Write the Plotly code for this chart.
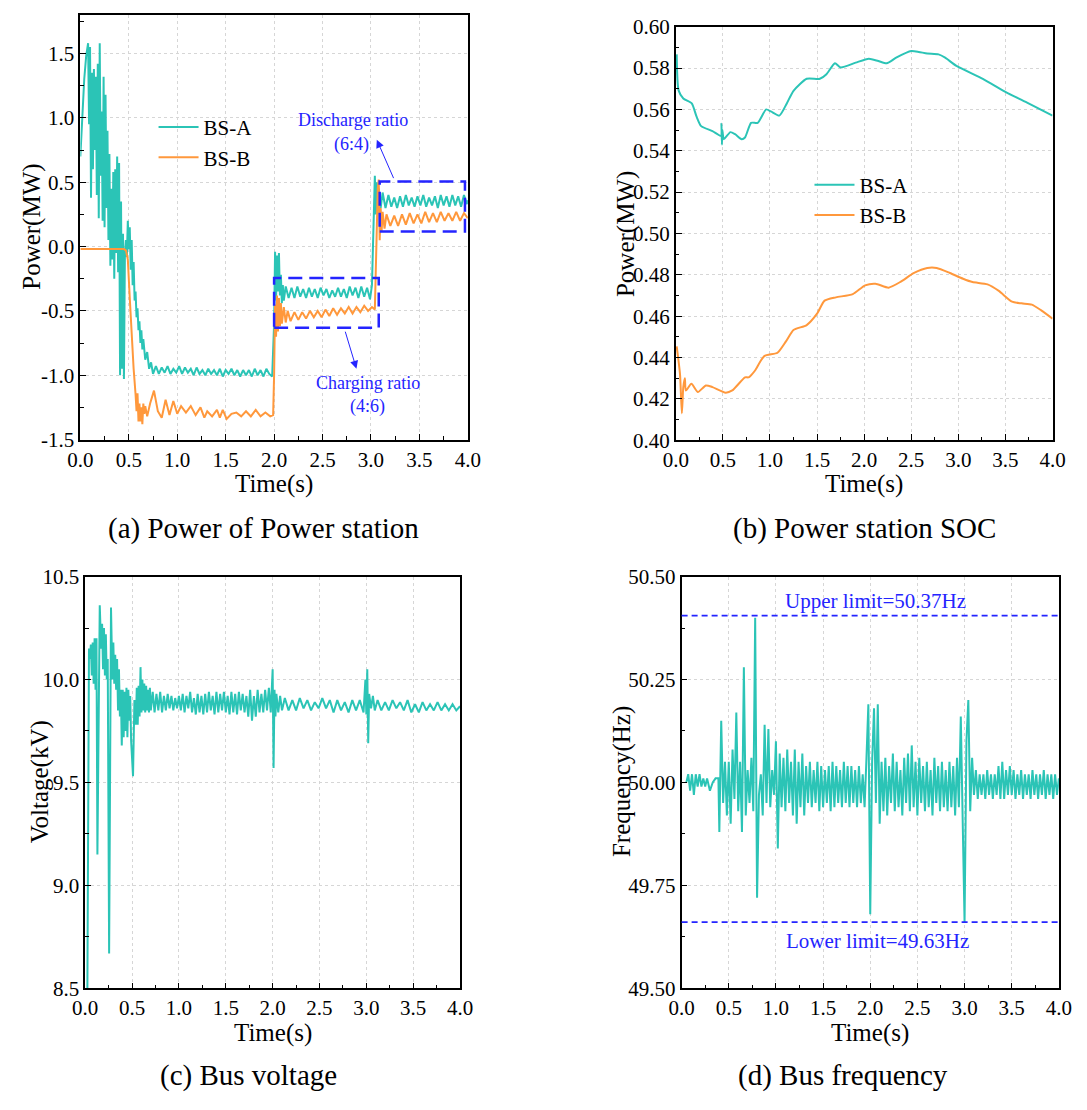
import plotly.graph_objects as go

# ---------------- DATA ----------------
# (a) Power of power station
bsa_time = [
    0.00, 0.02, 0.04, 0.06, 0.08, 0.09, 0.10, 0.11, 0.12, 0.13,
    0.14, 0.15, 0.16, 0.17, 0.18, 0.19, 0.20, 0.21, 0.22, 0.23,
    0.24, 0.25, 0.26, 0.27, 0.28, 0.29, 0.30, 0.31, 0.32, 0.33,
    0.34, 0.35, 0.36, 0.37, 0.38, 0.39, 0.40, 0.41, 0.42, 0.43,
    0.44, 0.45, 0.46, 0.47, 0.48, 0.49, 0.50, 0.51, 0.52, 0.53,
    0.54, 0.55, 0.56, 0.57, 0.58, 0.59, 0.60, 0.61, 0.62, 0.63,
    0.64, 0.65, 0.67, 0.69, 0.71, 0.73, 0.75, 0.78, 0.81, 0.84,
    0.87, 0.90, 0.93, 0.96, 0.99, 1.02, 1.05, 1.08, 1.11, 1.14,
    1.17, 1.20, 1.23, 1.26, 1.29, 1.32, 1.35, 1.38, 1.41, 1.44,
    1.47, 1.50, 1.53, 1.56, 1.59, 1.62, 1.65, 1.68, 1.71, 1.74,
    1.77, 1.80, 1.83, 1.86, 1.89, 1.92, 1.95, 1.98, 2.00, 2.01,
    2.02, 2.03, 2.04, 2.05, 2.06, 2.07, 2.08, 2.09, 2.10, 2.12,
    2.15, 2.18, 2.21, 2.24, 2.27, 2.30, 2.33, 2.36, 2.39, 2.42,
    2.45, 2.48, 2.51, 2.54, 2.57, 2.60, 2.63, 2.66, 2.69, 2.72,
    2.75, 2.78, 2.81, 2.84, 2.87, 2.90, 2.93, 2.96, 2.99, 3.01,
    3.02, 3.03, 3.04, 3.05, 3.06, 3.07, 3.08, 3.10, 3.12, 3.15,
    3.18, 3.21, 3.24, 3.27, 3.30, 3.33, 3.36, 3.39, 3.42, 3.45,
    3.48, 3.51, 3.54, 3.57, 3.60, 3.63, 3.66, 3.69, 3.72, 3.75,
    3.78, 3.81, 3.84, 3.87, 3.90, 3.93, 3.96, 3.99, 4.00,
]
bsa_power = [
    0.70, 1.05, 1.30, 1.48, 1.58, 0.95, 1.55, 0.38, 1.35, 0.60,
    1.38, 0.75, 1.32, 0.40, 1.42, 0.22, 1.58, 0.55, 1.05, 0.20,
    1.32, 0.15, 1.18, 0.30, 0.90, 0.05, 0.72, -0.15, 0.45, -0.10,
    0.58, -0.25, 0.60, -0.05, 0.70, -0.20, 0.65, -1.00, 0.35, -0.95,
    0.10, -1.03, -0.05, 0.05, -0.08, 0.20, -0.02, 0.15, -0.18, 0.05,
    -0.30, -0.12, -0.42, -0.35, -0.55, -0.48, -0.65, -0.58, -0.75, -0.65,
    -0.80, -0.72, -0.88, -0.82, -0.95, -0.90, -0.99, -0.93, -0.99, -0.94,
    -0.98, -0.93, -0.99, -0.95, -0.98, -0.93, -0.99, -0.94, -0.98, -0.95,
    -1.00, -0.94, -0.99, -0.96, -1.00, -0.95, -0.99, -0.96, -1.00, -0.95,
    -1.01, -0.96, -0.99, -0.95, -1.00, -0.96, -1.01, -0.96, -1.00, -0.96,
    -1.01, -0.95, -1.00, -0.96, -1.01, -0.95, -0.99, -1.01, -0.60, -0.04,
    -0.42, -0.07, -0.35, -0.05, -0.38, -0.22, -0.44, -0.30, -0.42, -0.31,
    -0.40, -0.32, -0.40, -0.31, -0.39, -0.33, -0.40, -0.32, -0.39, -0.33,
    -0.40, -0.32, -0.38, -0.33, -0.40, -0.34, -0.39, -0.32, -0.39, -0.33,
    -0.40, -0.31, -0.38, -0.32, -0.40, -0.31, -0.39, -0.32, -0.41, -0.30,
    -0.05, 0.30, 0.55, 0.25, 0.50, 0.30, 0.45, 0.30, 0.42, 0.30,
    0.40, 0.31, 0.38, 0.30, 0.39, 0.31, 0.40, 0.32, 0.38, 0.31,
    0.39, 0.32, 0.40, 0.31, 0.38, 0.32, 0.39, 0.30, 0.40, 0.32,
    0.39, 0.31, 0.40, 0.32, 0.39, 0.31, 0.40, 0.33, 0.36,
]
bsb_time = [
    0.00, 0.45, 0.47, 0.49, 0.51, 0.53, 0.55, 0.57, 0.58, 0.59,
    0.60, 0.61, 0.62, 0.63, 0.64, 0.65, 0.66, 0.67, 0.69, 0.72,
    0.76, 0.80, 0.84, 0.88, 0.92, 0.96, 1.00, 1.04, 1.09, 1.14,
    1.19, 1.24, 1.28, 1.31, 1.36, 1.41, 1.44, 1.47, 1.51, 1.56,
    1.61, 1.66, 1.71, 1.76, 1.81, 1.86, 1.91, 1.96, 1.99, 2.00,
    2.01, 2.02, 2.03, 2.04, 2.05, 2.06, 2.07, 2.08, 2.10, 2.12,
    2.14, 2.17, 2.21, 2.25, 2.29, 2.33, 2.37, 2.41, 2.45, 2.49,
    2.53, 2.57, 2.61, 2.65, 2.69, 2.73, 2.77, 2.81, 2.85, 2.89,
    2.93, 2.97, 3.01, 3.04, 3.05, 3.06, 3.07, 3.08, 3.09, 3.10,
    3.11, 3.12, 3.14, 3.16, 3.20, 3.24, 3.28, 3.32, 3.36, 3.40,
    3.44, 3.48, 3.52, 3.56, 3.60, 3.64, 3.68, 3.72, 3.76, 3.80,
    3.84, 3.88, 3.92, 3.96, 4.00,
]
bsb_power = [
    -0.02, -0.02, -0.03, -0.10, -0.40, -0.72, -0.95, -1.15, -1.28, -1.14,
    -1.36, -1.22, -1.36, -1.25, -1.38, -1.22, -1.30, -1.24, -1.32, -1.22,
    -1.12, -1.28, -1.33, -1.19, -1.31, -1.20, -1.30, -1.24, -1.29, -1.24,
    -1.31, -1.25, -1.33, -1.28, -1.32, -1.27, -1.33, -1.27, -1.34, -1.30,
    -1.29, -1.32, -1.28, -1.32, -1.27, -1.32, -1.29, -1.32, -1.31, -1.00,
    -0.45, -0.70, -0.38, -0.66, -0.40, -0.62, -0.44, -0.60, -0.47, -0.59,
    -0.50, -0.58, -0.51, -0.57, -0.51, -0.56, -0.50, -0.55, -0.50, -0.55,
    -0.49, -0.54, -0.48, -0.53, -0.48, -0.52, -0.47, -0.52, -0.47, -0.51,
    -0.46, -0.50, -0.47, -0.49, -0.20, 0.20, 0.45, 0.52, 0.05, 0.30,
    0.12, 0.27, 0.14, 0.25, 0.16, 0.24, 0.16, 0.25, 0.17, 0.26,
    0.18, 0.25, 0.18, 0.27, 0.19, 0.26, 0.19, 0.27, 0.20, 0.26,
    0.20, 0.27, 0.20, 0.26, 0.22,
]

# (b) Power station SOC
soc_a_time = [0.01, 0.03, 0.08, 0.17, 0.22, 0.27, 0.39, 0.48, 0.485, 0.49,
              0.495, 0.51, 0.58, 0.63, 0.70, 0.735, 0.80, 0.87, 0.96, 1.01,
              1.10, 1.18, 1.25, 1.39, 1.53, 1.60, 1.69, 1.75, 1.91, 2.05,
              2.15, 2.24, 2.34, 2.50, 2.58, 2.67, 2.79, 2.86, 2.98, 3.26,
              3.50, 3.74, 4.00]
soc_a = [0.5866, 0.5692, 0.5653, 0.5629, 0.5566, 0.5519, 0.5495, 0.5472, 0.5530, 0.5430,
         0.5500, 0.5456, 0.5490, 0.5480, 0.5456, 0.5464, 0.5535, 0.5535, 0.5600, 0.5590,
         0.5570, 0.5630, 0.5690, 0.5748, 0.5748, 0.5770, 0.5823, 0.5803, 0.5826, 0.5845,
         0.5834, 0.5823, 0.5850, 0.5882, 0.5878, 0.5870, 0.5866, 0.5850, 0.5810, 0.5748,
         0.5685, 0.5630, 0.5570]
soc_b_time = [0.01, 0.045, 0.065, 0.08, 0.097, 0.107, 0.166, 0.235, 0.32, 0.39,
              0.53, 0.60, 0.735, 0.77, 0.79, 0.84, 0.94, 1.08, 1.17, 1.25,
              1.39, 1.50, 1.58, 1.70, 1.88, 2.01, 2.12, 2.26, 2.39, 2.53,
              2.67, 2.77, 2.91, 3.05, 3.15, 3.31, 3.43, 3.57, 3.67, 3.78,
              3.88, 4.00]
soc_b = [0.4454, 0.4320, 0.4130, 0.4257, 0.4300, 0.4240, 0.4273, 0.4233, 0.4265, 0.4257,
         0.4230, 0.4241, 0.4304, 0.4304, 0.4310, 0.4336, 0.4407, 0.4423, 0.4478, 0.4533,
         0.4557, 0.4612, 0.4675, 0.4691, 0.4707, 0.4749, 0.4757, 0.4738, 0.4767, 0.4809,
         0.4833, 0.4833, 0.4809, 0.4781, 0.4765, 0.4754, 0.4722, 0.4670, 0.4662, 0.4656,
         0.4628, 0.4588]

# (c) Bus voltage
volt_time = [
    0.02, 0.04, 0.05, 0.06, 0.07, 0.08, 0.09, 0.10, 0.11, 0.12,
    0.13, 0.155, 0.17, 0.18, 0.19, 0.20, 0.21, 0.22, 0.23, 0.24,
    0.255, 0.275, 0.29, 0.30, 0.31, 0.32, 0.33, 0.34, 0.35, 0.36,
    0.37, 0.38, 0.39, 0.40, 0.41, 0.42, 0.43, 0.44, 0.45, 0.46,
    0.47, 0.48, 0.49, 0.51, 0.525, 0.54, 0.55, 0.56, 0.57, 0.58,
    0.59, 0.60, 0.61, 0.62, 0.63, 0.64, 0.65, 0.66, 0.67, 0.68,
    0.69, 0.70, 0.72, 0.74, 0.76, 0.78, 0.80, 0.82, 0.84, 0.86,
    0.88, 0.90, 0.92, 0.94, 0.96, 0.98, 1.00, 1.02, 1.04, 1.06,
    1.08, 1.10, 1.12, 1.14, 1.16, 1.18, 1.20, 1.22, 1.24, 1.26,
    1.28, 1.30, 1.32, 1.34, 1.36, 1.38, 1.40, 1.42, 1.44, 1.46,
    1.48, 1.50, 1.52, 1.54, 1.56, 1.58, 1.60, 1.62, 1.64, 1.66,
    1.68, 1.70, 1.72, 1.74, 1.76, 1.78, 1.80, 1.82, 1.84, 1.86,
    1.88, 1.90, 1.92, 1.94, 1.96, 1.98, 2.00, 2.01, 2.02, 2.03,
    2.04, 2.06, 2.08, 2.10, 2.13, 2.17, 2.21, 2.25, 2.29, 2.33,
    2.37, 2.41, 2.45, 2.49, 2.53, 2.57, 2.61, 2.65, 2.69, 2.73,
    2.77, 2.81, 2.85, 2.89, 2.93, 2.97, 2.99, 3.00, 3.01, 3.02,
    3.03, 3.05, 3.07, 3.09, 3.12, 3.16, 3.20, 3.24, 3.28, 3.32,
    3.36, 3.40, 3.44, 3.48, 3.52, 3.56, 3.60, 3.64, 3.68, 3.72,
    3.76, 3.80, 3.84, 3.88, 3.92, 3.96, 4.00,
]
voltage = [
    8.20, 10.15, 10.10, 10.17, 10.02, 10.18, 9.98, 10.20, 9.95, 10.20,
    9.15, 10.36, 10.15, 10.27, 10.05, 10.25, 10.02, 10.22, 10.00, 10.10,
    8.67, 10.35, 10.00, 10.18, 9.98, 10.12, 9.95, 10.10, 9.85, 10.05,
    9.82, 9.95, 9.68, 9.95, 9.72, 9.94, 9.75, 9.96, 9.72, 9.95,
    9.80, 9.92, 9.70, 9.53, 9.90, 9.78, 9.96, 9.78, 9.97, 9.82,
    10.06, 9.84, 10.00, 9.85, 9.98, 9.84, 9.97, 9.85, 9.95, 9.84,
    9.96, 9.85, 9.94, 9.84, 9.93, 9.85, 9.94, 9.84, 9.92, 9.85,
    9.93, 9.86, 9.92, 9.85, 9.91, 9.86, 9.92, 9.85, 9.93, 9.84,
    9.92, 9.86, 9.94, 9.84, 9.91, 9.83, 9.93, 9.84, 9.92, 9.83,
    9.93, 9.84, 9.94, 9.85, 9.92, 9.83, 9.94, 9.84, 9.93, 9.85,
    9.94, 9.84, 9.92, 9.83, 9.94, 9.84, 9.93, 9.83, 9.94, 9.85,
    9.93, 9.84, 9.92, 9.82, 9.95, 9.80, 9.92, 9.82, 9.95, 9.84,
    9.93, 9.84, 9.95, 9.85, 9.96, 9.84, 10.05, 9.57, 9.95, 9.82,
    9.93, 9.84, 9.92, 9.85, 9.91, 9.85, 9.90, 9.85, 9.91, 9.86,
    9.90, 9.85, 9.89, 9.86, 9.91, 9.86, 9.90, 9.84, 9.90, 9.85,
    9.89, 9.84, 9.90, 9.85, 9.90, 9.84, 10.00, 9.83, 10.05, 9.69,
    9.93, 9.86, 9.92, 9.85, 9.90, 9.85, 9.89, 9.85, 9.90, 9.86,
    9.89, 9.85, 9.90, 9.84, 9.88, 9.84, 9.89, 9.85, 9.88, 9.85,
    9.89, 9.85, 9.88, 9.85, 9.88, 9.85, 9.87,
]

# (d) Bus frequency
freq_time = [
    0.05, 0.07, 0.09, 0.11, 0.13, 0.15, 0.17, 0.19, 0.21, 0.23,
    0.25, 0.27, 0.30, 0.33, 0.36, 0.39,
    0.40, 0.42, 0.44, 0.46, 0.48, 0.50, 0.52, 0.54, 0.56, 0.58,
    0.60, 0.62, 0.64, 0.66, 0.68, 0.70, 0.72, 0.74, 0.76, 0.78,
    0.80, 0.82, 0.84, 0.86, 0.88, 0.90, 0.92, 0.94, 0.96, 0.98,
    1.00, 1.02, 1.04, 1.06, 1.08, 1.10, 1.12, 1.14, 1.16, 1.18,
    1.20, 1.22, 1.24, 1.26, 1.28, 1.30, 1.32, 1.34, 1.36, 1.38,
    1.40, 1.42, 1.44, 1.46, 1.48, 1.50, 1.52, 1.54, 1.56, 1.58,
    1.60, 1.62, 1.64, 1.66, 1.68, 1.70, 1.72, 1.74, 1.76, 1.78,
    1.80, 1.82, 1.84, 1.86, 1.88, 1.90, 1.92, 1.94, 1.96, 1.98,
    2.00, 2.02, 2.04, 2.06, 2.08, 2.10, 2.12, 2.14, 2.16, 2.18,
    2.20, 2.22, 2.24, 2.26, 2.28, 2.30, 2.32, 2.34, 2.36, 2.38,
    2.40, 2.42, 2.44, 2.46, 2.48, 2.50, 2.52, 2.54, 2.56, 2.58,
    2.60, 2.62, 2.64, 2.66, 2.68, 2.70, 2.72, 2.74, 2.76, 2.78,
    2.80, 2.82, 2.84, 2.86, 2.88, 2.90, 2.92, 2.94, 2.96, 2.98,
    3.00, 3.02, 3.04, 3.06, 3.08, 3.10, 3.12, 3.14, 3.16, 3.18,
    3.20, 3.22, 3.24, 3.26, 3.28, 3.30, 3.32, 3.34, 3.36, 3.38,
    3.40, 3.42, 3.44, 3.46, 3.48, 3.50, 3.52, 3.54, 3.56, 3.58,
    3.60, 3.62, 3.64, 3.66, 3.68, 3.70, 3.72, 3.74, 3.76, 3.78,
    3.80, 3.82, 3.84, 3.86, 3.88, 3.90, 3.92, 3.94, 3.96, 3.98,
    4.00,
]
frequency = [
    50.00, 50.02, 49.98, 50.02, 49.97, 50.02, 49.99, 50.02, 49.99, 50.01,
    49.99, 50.01, 49.98, 50.00, 50.01, 50.01,
    49.88, 50.15, 49.95, 50.05, 49.92, 50.05, 49.90, 50.08, 49.96, 50.17,
    49.93, 50.05, 49.88, 50.28, 49.92, 50.03, 49.95, 50.06, 49.93, 50.40,
    49.72, 49.97, 50.02, 49.92, 50.14, 49.95, 50.13, 49.94, 50.03, 49.97,
    50.10, 49.84, 50.07, 49.94, 50.06, 49.93, 50.08, 49.95, 50.05, 49.92,
    50.08, 49.90, 50.05, 49.94, 50.07, 49.92, 50.04, 49.95, 50.05, 49.94,
    50.03, 49.95, 50.05, 49.93, 50.04, 49.94, 50.03, 49.95, 50.04, 49.93,
    50.05, 49.94, 50.04, 49.95, 50.03, 49.94, 50.05, 49.95, 50.04, 49.94,
    50.04, 49.95, 50.03, 49.94, 50.04, 49.95, 50.02, 49.94, 50.06, 50.19,
    49.68, 50.05, 50.18, 49.95, 50.19, 49.90, 50.05, 49.93, 50.06, 49.92,
    50.04, 49.95, 50.07, 49.93, 50.05, 49.94, 50.03, 49.92, 50.06, 49.95,
    50.07, 49.93, 50.09, 49.94, 50.05, 49.92, 50.06, 49.95, 50.04, 49.93,
    50.05, 49.94, 50.03, 49.92, 50.06, 49.95, 50.04, 49.93, 50.05, 49.94,
    50.03, 49.93, 50.05, 49.94, 50.04, 49.92, 50.06, 49.94, 50.16, 49.95,
    49.66, 50.10, 50.20, 49.93, 50.06, 49.97, 50.03, 49.96, 50.02, 49.97,
    50.02, 49.96, 50.03, 49.97, 50.02, 49.96, 50.02, 49.97, 50.04, 49.96,
    50.05, 49.96, 50.03, 49.97, 50.04, 49.97, 50.03, 49.96, 50.02, 49.97,
    50.03, 49.96, 50.02, 49.97, 50.02, 49.96, 50.03, 49.97, 50.02, 49.96,
    50.02, 49.97, 50.03, 49.96, 50.02, 49.97, 50.02, 49.96, 50.02, 49.97,
    50.01,
]
freq_limits = [50.405, 49.661]
freq_limit_labels = ["Upper limit=50.37Hz", "Lower limit=49.63Hz"]

power_ticks = [-1.5, -1.0, -0.5, 0.0, 0.5, 1.0, 1.5]
power_ticktext = ["-1.5", "-1.0", "-0.5", "0.0", "0.5", "1.0", "1.5"]

for a, b in [(bsa_time, bsa_power), (bsb_time, bsb_power), (soc_a_time, soc_a),
             (soc_b_time, soc_b), (volt_time, voltage), (freq_time, frequency)]:
    assert len(a) == len(b), (len(a), len(b))

# ---------------- STYLE ----------------
FONT = "Liberation Serif"
TEAL = "#2BC4B6"
ORANGE = "#FF983C"
BLUE = "#2424FF"
W, H = 1087, 1110


def fx(p):
    return p / W


def fy(p):
    return 1 - p / H


fig = go.Figure()

fig.add_trace(go.Scatter(x=bsa_time, y=bsa_power, mode="lines", name="BS-A",
                         line=dict(color=TEAL, width=2), xaxis="x", yaxis="y", legend="legend"))
fig.add_trace(go.Scatter(x=bsb_time, y=bsb_power, mode="lines", name="BS-B",
                         line=dict(color=ORANGE, width=2), xaxis="x", yaxis="y", legend="legend"))
fig.add_trace(go.Scatter(x=soc_a_time, y=soc_a, mode="lines", name="BS-A",
                         line=dict(color=TEAL, width=2, shape="spline", smoothing=0.6),
                         xaxis="x2", yaxis="y2", legend="legend2"))
fig.add_trace(go.Scatter(x=soc_b_time, y=soc_b, mode="lines", name="BS-B",
                         line=dict(color=ORANGE, width=2, shape="spline", smoothing=0.6),
                         xaxis="x2", yaxis="y2", legend="legend2"))
fig.add_trace(go.Scatter(x=volt_time, y=voltage, mode="lines", showlegend=False,
                         line=dict(color=TEAL, width=2), xaxis="x3", yaxis="y3"))
fig.add_trace(go.Scatter(x=freq_time, y=frequency, mode="lines", showlegend=False,
                         line=dict(color=TEAL, width=2), xaxis="x4", yaxis="y4"))

base = dict(showline=True, linecolor="black", linewidth=1.6, mirror=True,
            ticks="inside", ticklen=6, tickwidth=1.3, tickcolor="black",
            showgrid=True, gridcolor="#D6D6D6", griddash="dot", gridwidth=1,
            zeroline=False, tickfont=dict(family=FONT, size=21, color="black"))


def xax(x0, x1, anchor):
    d = dict(base)
    d.update(domain=[fx(x0), fx(x1)], range=[0, 4], dtick=0.5, tick0=0, tickformat=".1f",
             anchor=anchor,
             minor=dict(ticks="inside", ticklen=3.5, tickcolor="black", tickwidth=1,
                        dtick=0.25, tick0=0, showgrid=False))
    return d


def yax(y_top, y_bot, anchor, rng, dtick, mdtick, fmt):
    d = dict(base)
    d.update(domain=[fy(y_bot), fy(y_top)], range=rng, dtick=dtick, tick0=rng[0],
             tickformat=fmt, anchor=anchor,
             minor=dict(ticks="inside", ticklen=3.5, tickcolor="black", tickwidth=1,
                        dtick=mdtick, tick0=rng[0], showgrid=False))
    return d


ya = yax(3, 437, "x", [-1.5, 1.8], 0.5, 0.25, ".1f")
ya.update(tickmode="array", tickvals=power_ticks, ticktext=power_ticktext)
ya["minor"].update(tickmode="linear")

fig.update_layout(
    width=W, height=H, autosize=False,
    margin=dict(l=0, r=0, t=0, b=0),
    paper_bgcolor="white", plot_bgcolor="white",
    xaxis=xax(69, 466, "y"),
    yaxis=ya,
    xaxis2=xax(679, 1065, "y2"),
    yaxis2=yax(15, 437.7, "x2", [0.40, 0.60], 0.02, 0.01, ".2f"),
    xaxis3=xax(74, 458, "y3"),
    yaxis3=yax(577, 998, "x3", [8.5, 10.5], 0.5, 0.25, ".1f"),
    xaxis4=xax(685, 1071.5, "y4"),
    yaxis4=yax(577, 998, "x4", [49.5, 50.5], 0.25, 0.125, ".2f"),
    legend=dict(x=fx(144), y=fy(97), xanchor="left", yanchor="top",
                font=dict(family=FONT, size=21, color="black"),
                bgcolor="rgba(0,0,0,0)", itemwidth=40, tracegroupgap=0),
    legend2=dict(x=fx(816), y=fy(156), xanchor="left", yanchor="top",
                 font=dict(family=FONT, size=21, color="black"),
                 bgcolor="rgba(0,0,0,0)", itemwidth=40, tracegroupgap=0),
)

# dashed boxes in (a)
fig.add_shape(type="rect", xref="x", yref="y", x0=2.0, x1=3.08, y0=-0.632, y1=-0.244,
              line=dict(color=BLUE, width=2.5, dash="14px,7px"))
fig.add_shape(type="rect", xref="x", yref="y", x0=3.09, x1=3.97, y0=0.116, y1=0.506,
              line=dict(color=BLUE, width=2.5, dash="14px,7px"))

# limit lines in (d)
for lv in freq_limits:
    fig.add_shape(type="line", xref="x4 domain", yref="y4", x0=0, x1=1, y0=lv, y1=lv,
                  line=dict(color=BLUE, width=1.6, dash="6px,4px"))

ann = []
# arrows in (a)
ann.append(dict(x=2.85, y=-0.95, ax=2.73, ay=-0.65, xref="x", yref="y", axref="x", ayref="y",
                showarrow=True, arrowhead=2, arrowsize=1.6, arrowwidth=1, arrowcolor=BLUE, text=""))
ann.append(dict(x=3.06, y=0.83, ax=3.24, ay=0.52, xref="x", yref="y", axref="x", ayref="y",
                showarrow=True, arrowhead=2, arrowsize=1.6, arrowwidth=1, arrowcolor=BLUE, text=""))
bluefont = dict(family=FONT, size=18, color=BLUE)
ann += [
    dict(x=2.81, y=0.98, xref="x", yref="y", text="Discharge ratio", showarrow=False, font=bluefont),
    dict(x=2.80, y=0.795, xref="x", yref="y", text="(6:4)", showarrow=False, font=bluefont),
    dict(x=2.965, y=-1.062, xref="x", yref="y", text="Charging ratio", showarrow=False, font=bluefont),
    dict(x=2.96, y=-1.24, xref="x", yref="y", text="(4:6)", showarrow=False, font=bluefont),
]
limfont = dict(family=FONT, size=21, color=BLUE)
ann.append(dict(x=fx(884), y=fy(602), xref="paper", yref="paper", text=freq_limit_labels[0],
                showarrow=False, font=limfont, xanchor="center", yanchor="middle"))
ann.append(dict(x=fx(886), y=fy(950), xref="paper", yref="paper", text=freq_limit_labels[1],
                showarrow=False, font=limfont, xanchor="center", yanchor="middle"))

# axis titles
tfont = dict(family=FONT, size=25, color="black")
for txt, px, py, ang in [
    ("Power(MW)", 20, 220, -90),
    ("Time(s)", 267, 482, 0),
    ("Power(MW)", 628, 227, -90),
    ("Time(s)", 872, 482, 0),
    ("Voltage(kV)", 28, 787, -90),
    ("Time(s)", 266, 1044, 0),
    ("Frequency(Hz)", 624, 787, -90),
    ("Time(s)", 878, 1044, 0),
]:
    ann.append(dict(x=fx(px), y=fy(py), xref="paper", yref="paper", text=txt, textangle=ang,
                    showarrow=False, font=tfont, xanchor="center", yanchor="middle"))

# captions
cfont = dict(family=FONT, size=29, color="black")
for txt, px, py in [
    ("(a) Power of Power station", 257, 528),
    ("(b) Power station SOC", 872, 528),
    ("(c) Bus voltage", 241, 1087),
    ("(d) Bus frequency", 850, 1087),
]:
    ann.append(dict(x=fx(px), y=fy(py), xref="paper", yref="paper", text=txt,
                    showarrow=False, font=cfont, xanchor="center", yanchor="middle"))

fig.update_layout(annotations=ann)
fig.write_html("out.html", config={"displayModeBar": False},
               post_script="document.body.style.margin='0';document.body.style.overflow='hidden';")
